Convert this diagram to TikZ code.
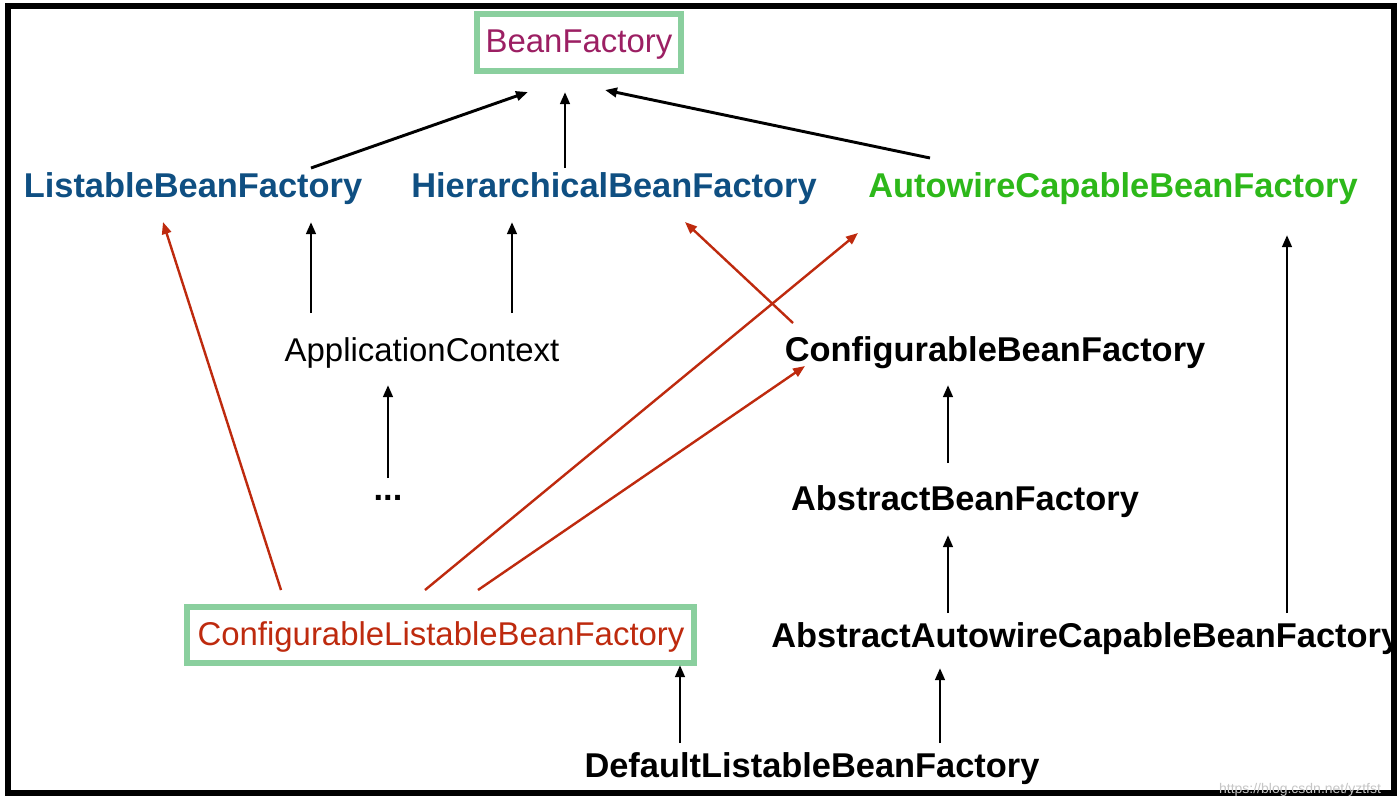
\documentclass[tikz,border=0pt]{standalone}
\usepackage{fontspec}
\setmainfont{Liberation Sans}
\usetikzlibrary{arrows.meta}
\definecolor{boxg}{HTML}{8ACF9E}
\definecolor{bfc}{HTML}{9C1F63}
\definecolor{blu}{HTML}{0F4F82}
\definecolor{grn}{HTML}{2DB81A}
\definecolor{rd}{HTML}{BE2A0E}
\begin{document}
\begin{tikzpicture}[x=0.75pt,y=-0.75pt,
  t/.style={font=\fontsize{24.7}{28}\selectfont, inner sep=0pt},
  b/.style={t, font=\fontsize{25.8}{29}\selectfont\bfseries},
  ar/.style={line width=2.2pt,-{Triangle[length=9pt,width=7pt]}},
  ra/.style={ar, draw=rd, line width=1.8pt}]
\useasboundingbox (0,0) rectangle (1400,808);
\fill[white] (0,0) rectangle (1400,808);
\begin{scope}
\clip (8,6) rectangle (1393,793);
\node[t,text=bfc] (bf) at (579,45) {BeanFactory};
\node[b,text=blu] (lbf) at (193,189) {ListableBeanFactory};
\node[b,text=blu] (hbf) at (614,189) {HierarchicalBeanFactory};
\node[b,text=grn] (acbf) at (1113,189) {AutowireCapableBeanFactory};
\node[t] (ac) at (422,353) {ApplicationContext};
\node[b] (cbf) at (995,353) {ConfigurableBeanFactory};
\node[b] (dots) at (388,498) {...};
\node[b] (abf) at (965,502) {AbstractBeanFactory};
\node[t,text=rd] (clbf) at (441,637) {ConfigurableListableBeanFactory};
\node[b,anchor=west] (aacbf) at (771,639) {AbstractAutowireCapableBeanFactory};
\node[b] (dlbf) at (812,769) {DefaultListableBeanFactory};
\end{scope}
\draw[boxg,line width=4.5pt] (477,14) rectangle (681,71);
\draw[boxg,line width=4.5pt] (187,607) rectangle (694,663);
\draw[black,line width=4.5pt] (7.5,5.5) rectangle (1394,792.5);
\node[font=\fontsize{10.5}{12}\selectfont, text=gray!45, inner sep=0pt] (wm) at (1300,790) {https://blog.csdn.net/yztfst};
\foreach \n/\x/\y in {a1/311/168, a2/528/92, b1/565/168, b2/565/92, c1/930/158, c2/605/90,
  d1/311/313, d2/311/222, e1/512/313, e2/512/222, f1/388/478, f2/388/385,
  g1/948/463, g2/948/385, h1/948/613, h2/948/535, i1/1287/613, i2/1287/235,
  j1/680/743, j2/680/665, k1/940/743, k2/940/668,
  r1/281/590, r2/163/222, s1/425/590, s2/858/233, u1/478/590, u2/805/366, v1/793/323, v2/685/222}
  {\coordinate (\n) at (\x,\y);}
\foreach \p/\q in {a1/a2,b1/b2,c1/c2,d1/d2,e1/e2,f1/f2,g1/g2,h1/h2,i1/i2,j1/j2,k1/k2}
  \draw[ar] (\p) -- (\q);
\foreach \p/\q in {r1/r2,s1/s2,u1/u2,v1/v2}
  \draw[ra] (\p) -- (\q);
\end{tikzpicture}
\end{document}
